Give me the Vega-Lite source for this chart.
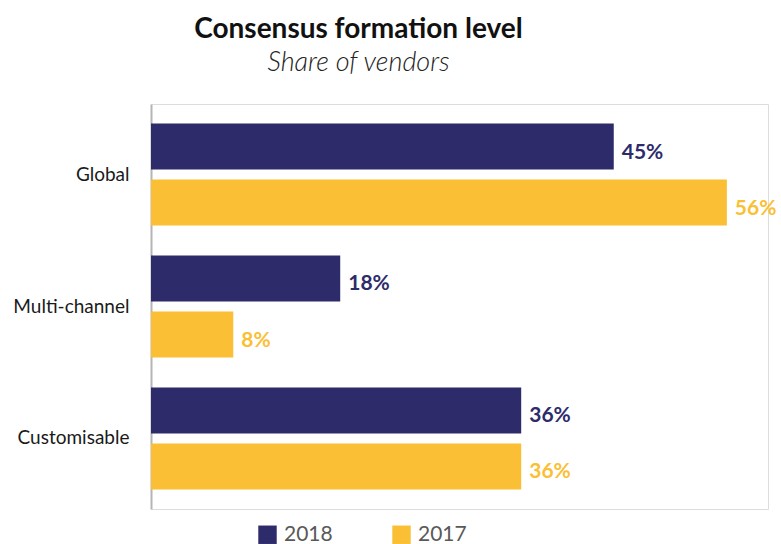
{
  "$schema": "https://vega.github.io/schema/vega-lite/v6.json",
  "autosize": "none",
  "padding": {"left": 151, "top": 104, "right": 13, "bottom": 35},
  "width": 617,
  "height": 405,
  "background": "white",
  "title": {
    "text": "Consensus formation level",
    "subtitle": "Share of vendors",
    "anchor": "middle",
    "dx": -101,
    "font": "Lato",
    "fontSize": 28,
    "fontWeight": "bold",
    "color": "#111111",
    "subtitleFont": "Lato",
    "subtitleFontSize": 27,
    "subtitleFontStyle": "italic",
    "subtitleFontWeight": 300,
    "subtitleColor": "#222222",
    "subtitlePadding": 6,
    "offset": 28
  },
  "data": {
    "values": [
      {"category": "Global", "year": "2018", "value": 45, "label": "45%"},
      {"category": "Global", "year": "2017", "value": 56, "label": "56%"},
      {"category": "Multi-channel", "year": "2018", "value": 18.4, "label": "18%"},
      {"category": "Multi-channel", "year": "2017", "value": 8, "label": "8%"},
      {"category": "Customisable", "year": "2018", "value": 36, "label": "36%"},
      {"category": "Customisable", "year": "2017", "value": 36, "label": "36%"}
    ]
  },
  "encoding": {
    "y": {
      "field": "category",
      "type": "nominal",
      "sort": ["Global", "Multi-channel", "Customisable"],
      "scale": {"paddingInner": 0.227, "paddingOuter": 0.148},
      "axis": {
        "title": null,
        "ticks": false,
        "domainColor": "#b5b5b5",
        "domainWidth": 2,
        "labelFont": "Lato",
        "labelFontSize": 19,
        "labelColor": "#1a1a1a",
        "labelPadding": 22
      }
    },
    "yOffset": {
      "field": "year",
      "type": "nominal",
      "scale": {"domain": ["2018", "2017"], "paddingInner": 0.179, "paddingOuter": 0}
    },
    "x": {
      "field": "value",
      "type": "quantitative",
      "scale": {"domain": [0, 60], "nice": false},
      "axis": null
    },
    "color": {
      "field": "year",
      "type": "nominal",
      "scale": {"domain": ["2018", "2017"], "range": ["#2e2b6b", "#fbbf35"]},
      "legend": {
        "title": null,
        "orient": "none",
        "direction": "horizontal",
        "legendX": 106,
        "legendY": 420,
        "symbolType": "square",
        "symbolSize": 340,
        "symbolStrokeWidth": 0,
        "labelFont": "Lato",
        "labelFontSize": 21,
        "labelColor": "#595959",
        "columnPadding": 58,
        "labelOffset": 6
      }
    }
  },
  "layer": [
    {"mark": {"type": "bar"}},
    {
      "mark": {
        "type": "text",
        "align": "left",
        "baseline": "middle",
        "dx": 8,
        "dy": 6,
        "font": "Lato",
        "fontSize": 21,
        "fontWeight": "bold"
      },
      "encoding": {"text": {"field": "label"}}
    }
  ]
}
